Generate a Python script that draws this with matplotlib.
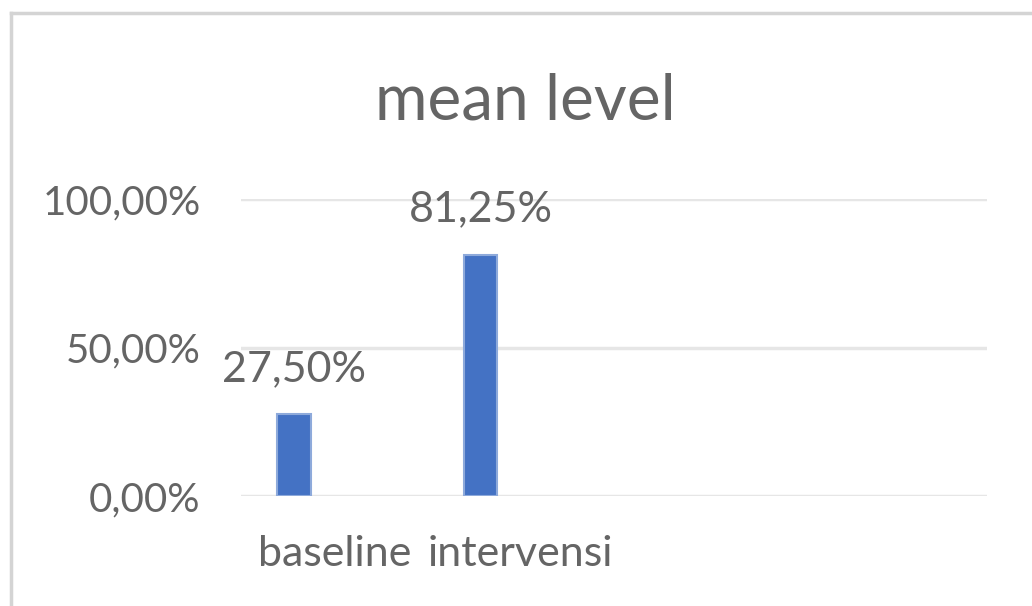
import matplotlib
matplotlib.use("Agg")
import matplotlib.pyplot as plt
from matplotlib.lines import Line2D
import numpy as np

plt.rcParams['font.family'] = ['Lato', 'DejaVu Sans']

# data
categories = ['baseline', 'intervensi', '', '']
values = [0.275, 0.8125]
value_labels = ['27,50%', '81,25%']
yticks = [0.0, 0.5, 1.0]
ytick_labels = ['0,00%', '50,00%', '100,00%']

txt = '#656565'
grid = '#e6e6e6'
bar_col = '#4472c4'

fig = plt.figure(figsize=(10.32, 6.06), dpi=100)
ax = fig.add_axes([241/1032, 1 - 496/606, 746/1032, 297/606])

pos = np.arange(len(values)) + 0.5 - 0.215
bars = ax.bar(pos, values, width=0.18, color=bar_col, edgecolor='#8eaadb', linewidth=1.5, zorder=3)
for b, lab in zip(bars, value_labels):
    ax.annotate(lab, (b.get_x() + b.get_width() / 2, b.get_height()), xytext=(0, 19),
                textcoords='offset points', ha='center', va='bottom', fontsize=31,
                color=txt, annotation_clip=False)

ax.set_xlim(0, len(categories))
ax.set_ylim(0, 1)
ax.set_yticks(yticks)
ax.set_yticklabels(ytick_labels, fontsize=29, color=txt)
ax.set_xticks(np.arange(len(categories)) + 0.5)
ax.set_xticklabels(categories, fontsize=31, color=txt)
ax.tick_params(length=0)
ax.tick_params(axis='y', pad=29)
ax.tick_params(axis='x', pad=28)
ax.grid(axis='y', color=grid, linewidth=2.5, zorder=0)
for s in ax.spines.values():
    s.set_visible(False)

fig.text(525/1032, 1 - 120/606, 'mean level', ha='center', va='baseline', fontsize=46, color=txt)

# chart border (left and top edges only, the rest is cropped)
fig.add_artist(Line2D([10.5/1032, 10.5/1032], [0, 1 - 12.5/606], color='#d4d4d4', linewidth=2.5))
fig.add_artist(Line2D([10.5/1032, 1], [1 - 12.5/606, 1 - 12.5/606], color='#d4d4d4', linewidth=2.5))

fig.savefig('out.png', dpi=100, facecolor='white')
